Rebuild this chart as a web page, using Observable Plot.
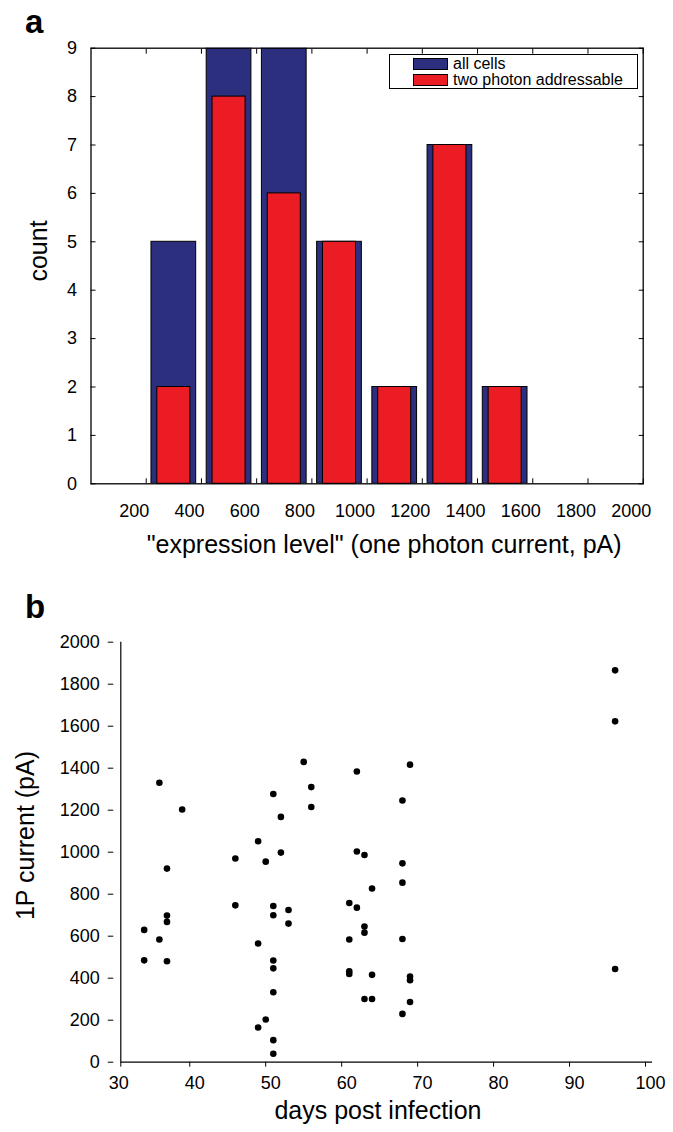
<!DOCTYPE html>
<html><head><meta charset="utf-8">
<script src="https://cdn.jsdelivr.net/npm/d3@7"></script>
<script src="https://cdn.jsdelivr.net/npm/@observablehq/plot@0.6"></script>
<style>
body{margin:0;background:#fff;font-family:"Liberation Sans",Arial,sans-serif;color:#000;}
#wrap{position:relative;width:673px;height:1132px;overflow:hidden;background:#fff;}
#wrap svg{position:absolute;left:0;}
.panel{position:absolute;font-weight:bold;font-size:33px;line-height:33px;}
.legend{position:absolute;left:389px;top:54px;width:247px;height:33px;border:1.3px solid #000;background:#fff;}
.sw{position:absolute;left:23px;width:33px;height:10px;border:1px solid #000;}
.lt{position:absolute;left:63px;font-size:16px;line-height:11px;height:11px;white-space:nowrap;}
</style></head><body><div id="wrap"></div><script>
// ---- panel a data ----
const binStarts = [200, 400, 600, 800, 1000, 1200, 1400];
const binEnds   = [400, 600, 800, 1000, 1200, 1400, 1600];
const allCells  = [5, 10, 10, 5, 2, 7, 2];   // two bins exceed the 9 axis top (clipped)
const twoPhoton = [2, 8, 6, 5, 2, 7, 2];
const seriesNames = ["all cells", "two photon addressable"];
const xTicksA = [200, 400, 600, 800, 1000, 1200, 1400, 1600, 1800, 2000];
const yTicksA = [0, 1, 2, 3, 4, 5, 6, 7, 8, 9];
const xTitleA = "\"expression level\" (one photon current, pA)";
const yTitleA = "count";

// ---- panel b data ----
const days = [34,34,36,36,37,37,37,37,39,46,46,49,49,49,50,50,51,51,51,51,51,51,51,51,52,52,53,53,55,56,56,
  61,61,61,61,62,62,62,63,63,63,63,64,64,64,68,68,68,68,68,69,69,69,69,96,96,96];
const current = [630,485,1331,584,922,698,668,481,1203,970,747,1052,565,165,955,203,1277,744,700,484,447,333,105,40,1168,998,725,660,1430,1310,1215,
  758,584,433,420,1384,1003,736,987,646,617,301,827,416,301,1246,947,855,587,230,1417,408,390,287,1866,1623,444];
const xTicksB = [30, 40, 50, 60, 70, 80, 90, 100];
const yTicksB = [0, 200, 400, 600, 800, 1000, 1200, 1400, 1600, 1800, 2000];
const xTitleB = "days post infection";
const yTitleB = "1P current (pA)";

const FONT = '"Liberation Sans", Arial, sans-serif';
const BLUE = "#2b2f7e", RED = "#ec1c24";
const wrap = document.getElementById("wrap");

const bars = binStarts.map((s, i) => ({x1: s, x2: binEnds[i], all: allCells[i], two: twoPhoton[i]}));
const noText = () => "";
const plain = d => String(d);

const plotA = Plot.plot({
  width: 673, height: 580,
  marginLeft: 90.5, marginRight: 30.3, marginTop: 47.7, marginBottom: 96.7,
  x: {domain: [0, 2000]},
  y: {domain: [0, 9]},
  style: {fontFamily: FONT, fontSize: "18px", color: "#000", background: "transparent", overflow: "visible"},
  marks: [
    Plot.rect(bars, {x1: "x1", x2: "x2", y1: 0, y2: "all", fill: BLUE, stroke: "#000", strokeWidth: 1, insetLeft: 5.25, insetRight: 5.25, clip: true}),
    Plot.rect(bars, {x1: "x1", x2: "x2", y1: 0, y2: "two", fill: RED, stroke: "#000", strokeWidth: 1, insetLeft: 11.1, insetRight: 11.1}),
    Plot.frame({stroke: "#000", strokeWidth: 1.3}),
    Plot.axisX({ticks: xTicksA, tickSize: -5, tickFormat: noText, label: null}),
    Plot.axisX({anchor: "top", ticks: xTicksA, tickSize: -5, tickFormat: noText, label: null}),
    Plot.axisX({ticks: xTicksA, tickSize: 0, tickPadding: 20, dx: -12, fontSize: 18, tickFormat: plain, label: null}),
    Plot.axisY({ticks: yTicksA, tickSize: -5, tickFormat: noText, label: null}),
    Plot.axisY({anchor: "right", ticks: yTicksA, tickSize: -5, tickFormat: noText, label: null}),
    Plot.axisY({ticks: yTicksA, tickSize: 0, tickPadding: 14, fontSize: 18, tickFormat: plain, label: null}),
    Plot.text([xTitleA], {text: d => d, frameAnchor: "bottom", textAnchor: "middle", dx: 17, dy: 68.7, lineAnchor: "bottom", fontSize: 25}),
    Plot.text([yTitleA], {text: d => d, frameAnchor: "left", textAnchor: "middle", rotate: -90, dx: -43.8, dy: -15, lineAnchor: "bottom", fontSize: 25})
  ]
});
plotA.style.top = "0px";
wrap.appendChild(plotA);

const points = days.map((d, i) => ({day: d, cur: current[i]}));
const plotB = Plot.plot({
  width: 673, height: 552,
  marginLeft: 113.3, marginRight: 28, marginTop: 61.7, marginBottom: 70.3,
  x: {domain: [30, 100]},
  y: {domain: [0, 2000]},
  style: {fontFamily: FONT, fontSize: "18px", color: "#000", background: "transparent", overflow: "visible"},
  marks: [
    Plot.ruleX([xTicksB[0]], {dx: 7, stroke: "#000", strokeWidth: 1.2}),
    Plot.ruleY([0], {x1: xTicksB[0], x2: xTicksB[xTicksB.length - 1], dx: 7, stroke: "#000", strokeWidth: 1.2}),
    Plot.axisY({ticks: yTicksB, tickSize: 5.5, tickPadding: 8.5, fontSize: 18, tickFormat: plain, label: null}),
    Plot.axisX({ticks: xTicksB.slice(1), tickSize: 5, tickFormat: noText, label: null}),
    Plot.axisX({ticks: xTicksB.slice(0, 1), tickSize: 5, dx: 7, tickFormat: noText, label: null}),
    Plot.axisX({ticks: xTicksB, tickSize: 0, tickPadding: 14, dx: 5, fontSize: 18, tickFormat: plain, label: null}),
    Plot.dot(points, {x: "day", y: "cur", r: 3.3, fill: "#000", stroke: "none"}),
    Plot.text([xTitleB], {text: d => d, frameAnchor: "bottom", textAnchor: "middle", dx: -1.7, dy: 57, lineAnchor: "bottom", fontSize: 25}),
    Plot.text([yTitleB], {text: d => d, frameAnchor: "left", textAnchor: "middle", rotate: -90, dx: -80.3, dy: -16.7, lineAnchor: "bottom", fontSize: 25})
  ]
});
plotB.style.top = "580px";
wrap.appendChild(plotB);

// panel letters
function letter(t, top) {
  const d = document.createElement("div");
  d.className = "panel"; d.textContent = t;
  d.style.left = "25px"; d.style.top = top + "px";
  wrap.appendChild(d);
}
letter("a", 5.4);
letter("b", 590.4);

// legend
const lg = document.createElement("div");
lg.className = "legend";
[BLUE, RED].forEach((c, i) => {
  const top = i === 0 ? 3 : 18.5;
  const sw = document.createElement("div");
  sw.className = "sw"; sw.style.background = c; sw.style.top = top + "px";
  lg.appendChild(sw);
  const t = document.createElement("div");
  t.className = "lt"; t.textContent = seriesNames[i]; t.style.top = top + "px";
  lg.appendChild(t);
});
wrap.appendChild(lg);
</script></body></html>
